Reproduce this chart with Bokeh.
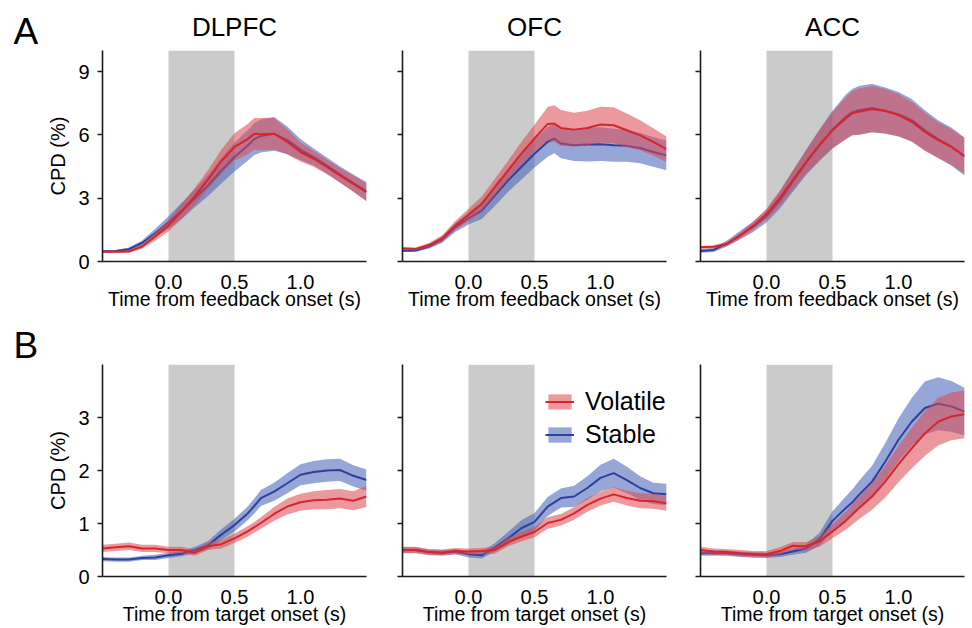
from bokeh.plotting import figure
from bokeh.models import (BoxAnnotation, Legend, LegendItem, FixedTicker,
                          PrintfTickFormatter, CustomJSTickFormatter, Range1d)
from bokeh.layouts import column, row
from bokeh.embed import file_html
from bokeh.resources import INLINE

# ---------------- data ----------------
time = [-0.5, -0.4, -0.3, -0.2, -0.1, 0.0, 0.1, 0.2, 0.3, 0.4, 0.5, 0.6, 0.65,
        0.7, 0.8, 0.9, 1.0, 1.1, 1.2, 1.3, 1.4, 1.5]

regions = ["DLPFC", "OFC", "ACC"]
panel_letters = ["A", "B"]
fb_y_ticks = [0, 3, 6, 9]
tg_y_ticks = [0, 1, 2, 3]
x_ticks = [0.0, 0.5, 1.0]

# A: feedback onset
dlpfc_fb_vol = [0.46, 0.46, 0.47, 0.71, 1.19, 1.7, 2.37, 3.1, 3.89, 4.75, 5.43, 5.8, 6.05, 6.03, 6.06, 5.67, 5.19, 4.87, 4.48, 4.08, 3.68, 3.29]
dlpfc_fb_vol_sem = [0.05, 0.05, 0.06, 0.1, 0.2, 0.28, 0.35, 0.4, 0.45, 0.55, 0.65, 0.72, 0.75, 0.77, 0.75, 0.6, 0.45, 0.38, 0.35, 0.35, 0.38, 0.43]
dlpfc_fb_stb = [0.48, 0.5, 0.58, 0.88, 1.35, 1.85, 2.4, 3.0, 3.6, 4.3, 4.95, 5.5, 5.8, 5.95, 6.05, 5.75, 5.3, 4.95, 4.55, 4.12, 3.72, 3.32]
dlpfc_fb_stb_sem = [0.05, 0.05, 0.08, 0.12, 0.2, 0.3, 0.38, 0.42, 0.5, 0.6, 0.68, 0.72, 0.75, 0.78, 0.8, 0.65, 0.5, 0.4, 0.38, 0.38, 0.4, 0.45]

ofc_fb_vol = [0.62, 0.59, 0.78, 1.1, 1.7, 2.2, 2.73, 3.52, 4.32, 5.11, 5.83, 6.52, 6.54, 6.33, 6.25, 6.33, 6.49, 6.46, 6.22, 5.98, 5.67, 5.32]
ofc_fb_vol_sem = [0.07, 0.07, 0.1, 0.15, 0.22, 0.3, 0.35, 0.4, 0.45, 0.55, 0.65, 0.8, 0.87, 0.85, 0.8, 0.82, 0.85, 0.85, 0.8, 0.72, 0.65, 0.6]
ofc_fb_stb = [0.51, 0.52, 0.71, 1.03, 1.62, 2.05, 2.41, 3.13, 3.85, 4.48, 5.11, 5.67, 5.83, 5.59, 5.51, 5.54, 5.56, 5.51, 5.48, 5.38, 5.19, 5.03]
ofc_fb_stb_sem = [0.06, 0.06, 0.1, 0.15, 0.22, 0.3, 0.4, 0.5, 0.55, 0.6, 0.65, 0.7, 0.7, 0.7, 0.75, 0.8, 0.8, 0.78, 0.75, 0.72, 0.7, 0.7]

acc_fb_vol = [0.67, 0.7, 0.83, 1.22, 1.7, 2.25, 3.0, 3.86, 4.71, 5.51, 6.22, 6.78, 7.03, 7.1, 7.22, 7.13, 6.94, 6.62, 6.14, 5.75, 5.43, 5.0]
acc_fb_vol_sem = [0.06, 0.07, 0.1, 0.15, 0.2, 0.25, 0.35, 0.45, 0.55, 0.7, 0.85, 1.0, 1.05, 1.1, 1.1, 1.05, 1.0, 0.95, 0.9, 0.85, 0.85, 0.85]
acc_fb_stb = [0.5, 0.55, 0.85, 1.25, 1.65, 2.15, 2.9, 3.8, 4.7, 5.5, 6.25, 6.85, 7.08, 7.17, 7.27, 7.15, 6.98, 6.7, 6.22, 5.8, 5.45, 4.98]
acc_fb_stb_sem = [0.08, 0.1, 0.14, 0.2, 0.25, 0.3, 0.4, 0.5, 0.6, 0.75, 0.9, 1.05, 1.1, 1.15, 1.15, 1.1, 1.05, 1.0, 0.95, 0.9, 0.9, 0.9]

# B: target onset
dlpfc_tg_vol = [0.53, 0.55, 0.57, 0.53, 0.53, 0.5, 0.5, 0.45, 0.57, 0.61, 0.72, 0.85, 0.93, 1.01, 1.18, 1.32, 1.40, 1.44, 1.45, 1.47, 1.43, 1.51]
dlpfc_tg_vol_sem = [0.07, 0.07, 0.07, 0.07, 0.07, 0.06, 0.06, 0.06, 0.07, 0.08, 0.09, 0.1, 0.1, 0.11, 0.13, 0.15, 0.16, 0.17, 0.18, 0.18, 0.18, 0.2]
dlpfc_tg_stb = [0.33, 0.32, 0.32, 0.35, 0.36, 0.4, 0.43, 0.5, 0.59, 0.79, 0.97, 1.19, 1.33, 1.48, 1.6, 1.76, 1.92, 1.97, 2.0, 2.01, 1.9, 1.82]
dlpfc_tg_stb_sem = [0.04, 0.04, 0.04, 0.04, 0.05, 0.05, 0.05, 0.06, 0.08, 0.1, 0.12, 0.13, 0.14, 0.15, 0.17, 0.19, 0.2, 0.21, 0.21, 0.21, 0.2, 0.2]

ofc_tg_vol = [0.5, 0.5, 0.46, 0.45, 0.48, 0.47, 0.48, 0.5, 0.65, 0.75, 0.84, 1.01, 1.04, 1.07, 1.19, 1.35, 1.47, 1.55, 1.48, 1.43, 1.42, 1.38]
ofc_tg_vol_sem = [0.06, 0.06, 0.06, 0.06, 0.06, 0.06, 0.06, 0.07, 0.08, 0.09, 0.1, 0.11, 0.11, 0.11, 0.12, 0.13, 0.13, 0.14, 0.14, 0.14, 0.14, 0.14]
ofc_tg_stb = [0.5, 0.5, 0.46, 0.45, 0.47, 0.42, 0.4, 0.55, 0.72, 0.91, 1.03, 1.32, 1.4, 1.48, 1.51, 1.67, 1.86, 1.95, 1.82, 1.67, 1.57, 1.55]
ofc_tg_stb_sem = [0.05, 0.05, 0.05, 0.05, 0.05, 0.06, 0.06, 0.08, 0.12, 0.15, 0.17, 0.18, 0.18, 0.18, 0.2, 0.22, 0.25, 0.27, 0.25, 0.22, 0.2, 0.2]

acc_tg_vol = [0.5, 0.47, 0.46, 0.44, 0.42, 0.42, 0.48, 0.58, 0.57, 0.66, 0.85, 1.05, 1.17, 1.29, 1.51, 1.79, 2.12, 2.42, 2.7, 2.92, 3.02, 3.06]
acc_tg_vol_sem = [0.06, 0.06, 0.06, 0.06, 0.06, 0.06, 0.07, 0.07, 0.08, 0.1, 0.13, 0.17, 0.19, 0.21, 0.25, 0.3, 0.34, 0.38, 0.42, 0.45, 0.45, 0.45]
acc_tg_stb = [0.44, 0.44, 0.44, 0.42, 0.41, 0.4, 0.42, 0.47, 0.53, 0.7, 1.05, 1.29, 1.4, 1.54, 1.79, 2.17, 2.58, 2.92, 3.18, 3.26, 3.21, 3.11]
acc_tg_stb_sem = [0.05, 0.05, 0.05, 0.05, 0.05, 0.05, 0.05, 0.06, 0.08, 0.12, 0.18, 0.22, 0.24, 0.26, 0.3, 0.35, 0.4, 0.45, 0.5, 0.5, 0.48, 0.45]

fb_data = [
    (dlpfc_fb_vol, dlpfc_fb_vol_sem, dlpfc_fb_stb, dlpfc_fb_stb_sem),
    (ofc_fb_vol, ofc_fb_vol_sem, ofc_fb_stb, ofc_fb_stb_sem),
    (acc_fb_vol, acc_fb_vol_sem, acc_fb_stb, acc_fb_stb_sem),
]
tg_data = [
    (dlpfc_tg_vol, dlpfc_tg_vol_sem, dlpfc_tg_stb, dlpfc_tg_stb_sem),
    (ofc_tg_vol, ofc_tg_vol_sem, ofc_tg_stb, ofc_tg_stb_sem),
    (acc_tg_vol, acc_tg_vol_sem, acc_tg_stb, acc_tg_stb_sem),
]

# ---------------- style ----------------
FONT = "Liberation Sans"
RED = "#d7252b"
RED_FILL = "#de4a50"
BLUE = "#2c40a0"
BLUE_FILL = "#4360b5"
GRAY = "#cbcbcb"
AXIS = "#1a1a1a"
BAND_ALPHA = 0.56

LETTER_W = 44
left_border = [100 - LETTER_W, 30, 30]
right_border = [6, 4, 6]
FRAME_W = 264
row_tops = [48, 52]
row_frames = [211, 212]
row_bottoms = [50, 50]


def letter_panel(ri):
    p = figure(frame_width=LETTER_W, frame_height=row_frames[ri],
               x_range=Range1d(0, 1), y_range=Range1d(0, 1),
               output_backend="svg", toolbar_location=None, tools="",
               x_axis_location=None, y_axis_location=None,
               min_border_left=0, min_border_right=0,
               min_border_top=row_tops[ri], min_border_bottom=row_bottoms[ri])
    p.outline_line_color = None
    p.xgrid.visible = False
    p.ygrid.visible = False
    p.title.text = panel_letters[ri]
    p.title.align = "left"
    p.title.offset = 13
    p.title.standoff = -3
    p.title.text_line_height = 1.0
    p.title.text_font = FONT
    p.title.text_font_size = "37px"
    p.title.text_font_style = "normal"
    p.title.text_color = "black"
    return p


def make_panel(ci, ri, vals):
    vol, vol_sem, stb, stb_sem = vals
    is_top = ri == 0
    p = figure(
        frame_width=FRAME_W,
        frame_height=row_frames[ri],
        x_range=Range1d(-0.5, 1.5),
        y_range=Range1d(0, 10) if is_top else Range1d(0, 4),
        output_backend="svg", toolbar_location=None, tools="",
        min_border_left=left_border[ci], min_border_right=right_border[ci],
        min_border_top=row_tops[ri],
        min_border_bottom=row_bottoms[ri],
    )
    p.outline_line_color = None
    p.xgrid.visible = False
    p.ygrid.visible = False
    p.background_fill_color = "white"
    p.border_fill_color = "white"

    if is_top:
        p.title.text = regions[ci]
        p.title.align = "center"
        p.title.text_font = FONT
        p.title.text_font_size = "26px"
        p.title.text_font_style = "normal"
        p.title.text_color = "black"
        p.title.standoff = 18

    p.add_layout(BoxAnnotation(left=0.0, right=0.5, fill_color=GRAY, fill_alpha=1.0,
                               line_color=None, level="underlay"))

    lo_s = [m - s for m, s in zip(stb, stb_sem)]
    hi_s = [m + s for m, s in zip(stb, stb_sem)]
    lo_v = [m - s for m, s in zip(vol, vol_sem)]
    hi_v = [m + s for m, s in zip(vol, vol_sem)]
    b_band = p.varea(x=time, y1=lo_s, y2=hi_s, fill_color=BLUE_FILL, fill_alpha=BAND_ALPHA)
    b_line = p.line(time, stb, line_color=BLUE, line_width=2)
    r_band = p.varea(x=time, y1=lo_v, y2=hi_v, fill_color=RED_FILL, fill_alpha=BAND_ALPHA)
    r_line = p.line(time, vol, line_color=RED, line_width=2)

    # axes
    for ax in (p.xaxis[0], p.yaxis[0]):
        ax.axis_line_color = AXIS
        ax.axis_line_width = 1.6
        ax.major_tick_line_color = AXIS
        ax.major_tick_line_width = 1.6
        ax.minor_tick_line_color = None
        ax.major_label_text_font = FONT
        ax.major_label_text_font_size = "20px"
        ax.major_label_text_color = "black"
        ax.axis_label_text_font = FONT
        ax.axis_label_text_font_style = "normal"
        ax.axis_label_text_color = "black"

    xa = p.xaxis[0]
    xa.ticker = FixedTicker(ticks=x_ticks)
    xa.formatter = PrintfTickFormatter(format="%.1f")
    xa.major_tick_out = 0
    xa.major_tick_in = 0
    xa.major_label_standoff = 13
    xa.axis_label = "Time from feedback onset (s)" if is_top else "Time from target onset (s)"
    xa.axis_label_text_font_size = "19.5px"
    xa.axis_label_standoff = -4

    ya = p.yaxis[0]
    ya.ticker = FixedTicker(ticks=fb_y_ticks if is_top else tg_y_ticks)
    ya.major_tick_out = 5
    ya.major_tick_in = 0
    ya.major_label_standoff = 8
    if ci == 0:
        ya.axis_label = "CPD (%)"
        ya.axis_label_text_font_size = "20px"
        ya.axis_label_standoff = 6
    else:
        ya.formatter = CustomJSTickFormatter(code="return ''")
        ya.major_label_standoff = 0

    if ci == 1 and not is_top:
        legend = Legend(
            items=[LegendItem(label="Volatile", renderers=[r_band, r_line]),
                   LegendItem(label="Stable", renderers=[b_band, b_line])],
            location=(143, 127), orientation="vertical",
            border_line_color=None, background_fill_alpha=0, padding=0, margin=0,
            spacing=4, glyph_width=29, glyph_height=19, label_height=29,
            label_standoff=11, label_text_font=FONT, label_text_font_size="25px",
            label_text_color="black",
        )
        p.add_layout(legend)
    return p


top = [letter_panel(0)] + [make_panel(i, 0, fb_data[i]) for i in range(3)]
bottom = [letter_panel(1)] + [make_panel(i, 1, tg_data[i]) for i in range(3)]
layout = column(row(*top), row(*bottom))

open("out.html", "w").write(file_html(layout, INLINE))
